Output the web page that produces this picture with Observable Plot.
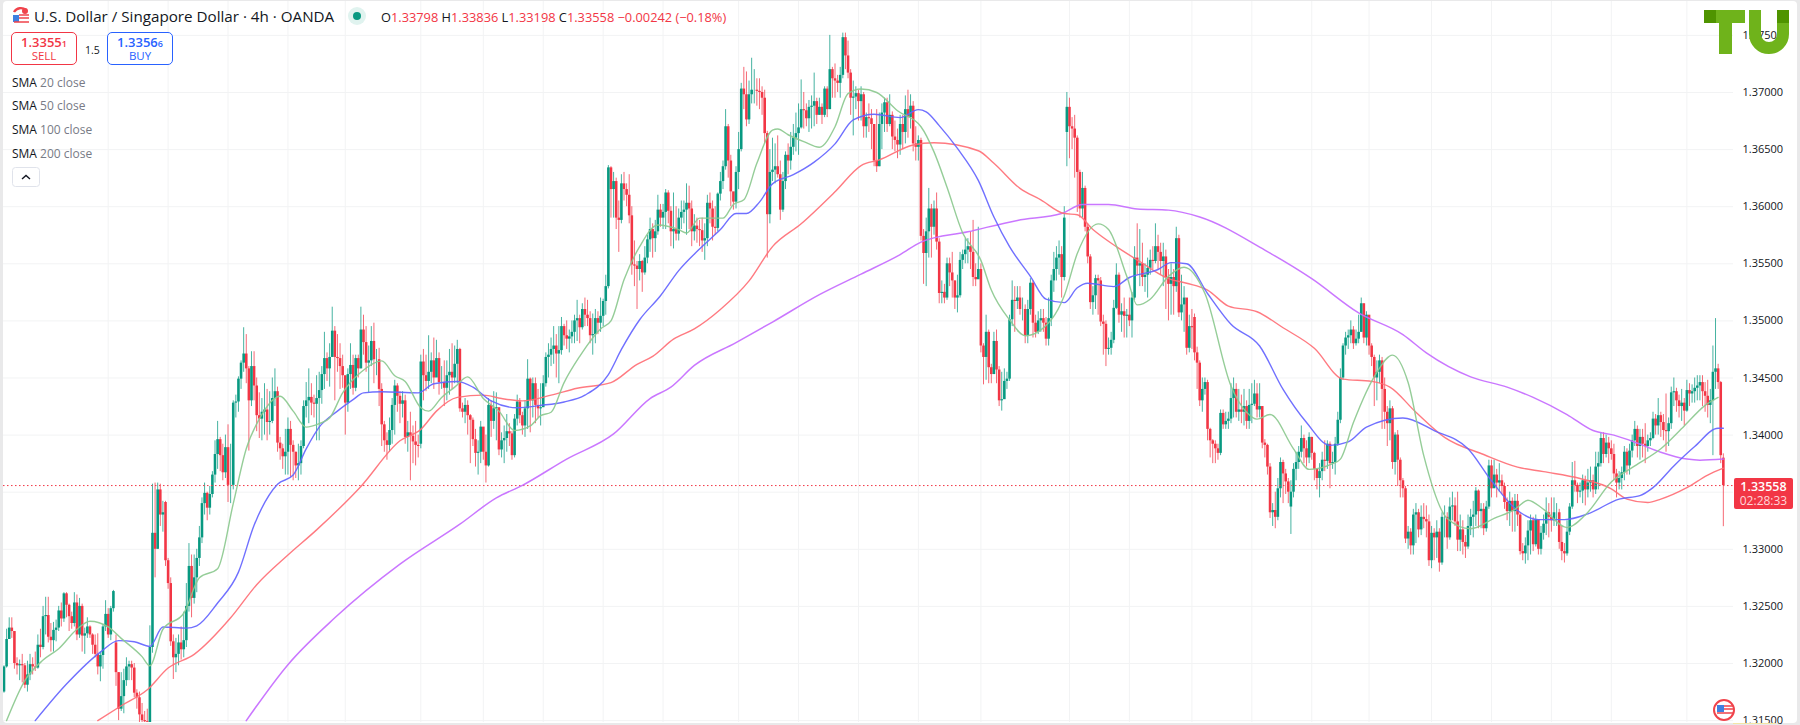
<!DOCTYPE html>
<html><head><meta charset="utf-8">
<script src="https://cdn.jsdelivr.net/npm/d3@7"></script>
<script src="https://cdn.jsdelivr.net/npm/@observablehq/plot@0.6"></script>
<style>
html,body{margin:0;padding:0;background:#e9e9ea;overflow:hidden}
#wrap{position:relative;width:1800px;height:725px;font-family:"Open Sans",sans-serif;color:#131722;overflow:hidden}
#panel{position:absolute;left:3px;top:1px;width:1794px;height:722px;background:#fff;border-radius:4px}
#chart{position:absolute;left:0;top:0}
.t{position:absolute;white-space:nowrap}
.box{position:absolute;top:32px;width:64px;height:31px;border:1px solid;border-radius:5px;text-align:center;background:#fff;line-height:1}
.box b{display:block;font-weight:600;font-size:13px;margin-top:3px}
.box b small{font-size:9px;font-weight:600}
.box span{display:block;font-size:11.5px;margin-top:1px}
.leg{left:12px;font-size:12px;color:#787b86}
.leg i{font-style:normal;color:#131722}
.r{color:#F23645}
svg.ov{position:absolute;left:0;top:0;pointer-events:none}
</style></head><body>
<div id="wrap"><div id="panel"></div><div id="chart"></div></div>
<script>
// Axis and grid
const yGrid=[1.315,1.32,1.325,1.33,1.335,1.34,1.345,1.35,1.355,1.36,1.365,1.37,1.375];
const yLabels=[1.315,1.32,1.325,1.33,1.34,1.345,1.35,1.355,1.36,1.365,1.37,1.375];
const gridBars=[40,63,86,109,131,160,184,207,230,253,282,305,328,351,375,409,432,456,479,502,524,548,571,594,617,646];
const lastPrice=1.33558;
// Candle rows in pips above 1.0000: [close, high, low, optional open]; the open is otherwise the previous close
const leg00=[[3197,3198,3174,3175],[3221,3230,3196],[3231,3240,3225],[3228,3240,3222],[3200,3228,3195],[3198,3205,3190],[3199,3203,3185],[3198,3208,3183],[3181,3200,3178],[3190,3202,3175],[3199,3208,3185],[3197,3205,3190],[3196,3210,3193],[3216,3225,3195],[3214,3230,3205],[3241,3250,3212],[3242,3258,3225],[3223,3258,3218],[3220,3235,3210],[3229,3236,3210],[3231,3238,3219],[3246,3250,3228],[3239,3253,3232],[3261,3262,3236],[3251,3262,3240],[3241,3252,3228],[3235,3245,3230],[3253,3262,3232],[3225,3260,3220],[3250,3257,3222],[3224,3252,3210],[3226,3231,3208],[3232,3240,3222],[3225,3233,3222],[3216,3226,3208],[3208,3225,3205],[3197,3226,3190],[3207,3210,3184],[3232,3234,3195],[3243,3255,3228]];
const leg01=[[3225,3248,3222],[3248,3250,3220],[3263,3264,3245],[3192,3225,3180,3218],[3160,3192,3150],[3171,3192,3158],[3185,3195,3156],[3197,3205,3180],[3199,3202,3185],[3196,3202,3185],[3174,3200,3170],[3170,3177,3160],[3155,3175,3145],[3150,3165,3140],[3149,3158,3140],[3148,3160,3140],[3214,3233,3140,3145],[3314,3357,3209],[3300,3358,3275],[3352,3358,3300],[3330,3357,3320],[3332,3342,3315],[3290,3342,3285,3341]];
const leg02=[[3270,3292,3265],[3219,3275,3215],[3205,3225,3186],[3208,3222,3192],[3218,3225,3198],[3212,3232,3203],[3220,3245,3205],[3250,3270,3214],[3285,3305,3245],[3257,3295,3240],[3275,3295,3252],[3292,3300,3262],[3310,3320,3285],[3340,3345,3305],[3349,3358,3330],[3336,3350,3325],[3348,3355,3330],[3365,3368,3345],[3383,3395,3358],[3396,3412,3370],[3382,3398,3368],[3367,3392,3360],[3389,3400,3362]];
const leg03=[[3356,3409,3341],[3356,3392,3340],[3428,3430,3352],[3429,3435,3415],[3449,3451,3420],[3463,3465,3440],[3471,3494,3455],[3458,3488,3445],[3430,3460,3386],[3460,3473,3425],[3443,3473,3430],[3417,3450,3403],[3414,3437,3397],[3420,3432,3395],[3422,3445,3400],[3411,3440,3395],[3412,3438,3400],[3432,3450,3410],[3438,3458,3425],[3393,3442,3385],[3388,3398,3378],[3381,3392,3370],[3385,3405,3365]];
const leg04=[[3405,3415,3365],[3391,3412,3363],[3385,3395,3360],[3373,3385,3362],[3375,3392,3360],[3390,3395,3365],[3425,3430,3388],[3430,3446,3415],[3433,3458,3410],[3428,3445,3417],[3427,3435,3415],[3432,3452,3395],[3439,3455,3395],[3453,3460,3427],[3467,3490,3440],[3458,3472,3447],[3468,3480,3442],[3491,3512,3468],[3468,3495,3430],[3467,3488,3455],[3460,3480,3440],[3452,3470,3441]];
const leg05=[[3428,3445,3400],[3453,3458,3420],[3461,3480,3440],[3441,3470,3435],[3467,3470,3438],[3458,3470,3450],[3492,3512,3458],[3481,3505,3470],[3463,3495,3455],[3465,3478,3437],[3482,3495,3460],[3466,3498,3445],[3466,3475,3452],[3440,3476,3425],[3409,3445,3390],[3395,3412,3385],[3391,3402,3378],[3404,3415,3385],[3426,3432,3392],[3443,3448,3400],[3434,3445,3420],[3427,3438,3410],[3430,3438,3415],[3398,3435,3392],[3402,3412,3385],[3399,3420,3360],[3394,3408,3375],[3391,3412,3373],[3390,3400,3380]];
const leg06=[[3464,3470,3388,3392],[3452,3475,3430],[3447,3470,3438],[3455,3487,3440],[3465,3472,3445],[3450,3485,3440],[3467,3483,3455],[3446,3472,3435],[3446,3460,3440],[3441,3465,3425],[3452,3465,3430],[3455,3475,3435],[3450,3480,3440],[3462,3478,3445],[3475,3483,3445],[3423,3476,3420],[3420,3428,3415],[3426,3432,3410],[3417,3430,3400],[3413,3418,3375],[3396,3415,3390],[3384,3405,3372],[3385,3395,3365],[3407,3412,3375]];
const leg07=[[3385,3405,3378],[3373,3400,3358],[3426,3432,3372],[3412,3430,3398],[3423,3438,3405],[3424,3437,3395],[3387,3412,3382],[3395,3402,3380],[3397,3408,3375],[3403,3418,3385],[3401,3410,3390],[3382,3403,3378],[3414,3418,3380],[3429,3435,3408],[3417,3432,3410],[3408,3420,3400],[3423,3430,3398],[3449,3466,3405],[3430,3450,3402],[3445,3450,3415],[3426,3450,3410],[3423,3440,3415],[3424,3445,3408]];
const leg08=[[3445,3452,3425],[3468,3472,3442],[3470,3480,3450],[3475,3485,3460],[3478,3495,3462],[3471,3488,3450],[3474,3495,3445],[3495,3503,3470],[3487,3497,3478],[3484,3500,3475],[3486,3492,3472],[3490,3500,3480],[3500,3505,3480],[3502,3518,3482],[3494,3505,3480],[3510,3515,3492],[3505,3520,3495],[3502,3518,3495],[3487,3508,3480],[3488,3506,3470],[3502,3510,3480],[3498,3508,3488],[3504,3520,3490]];
const leg09=[[3517,3519,3495],[3530,3540,3505],[3634,3636,3528],[3615,3635,3590],[3622,3630,3590],[3590,3625,3580],[3588,3605,3560],[3620,3628,3585],[3615,3630,3605],[3610,3620,3600],[3592,3628,3585],[3549,3600,3540],[3548,3570,3530],[3545,3552,3510],[3552,3558,3535],[3542,3553,3525],[3555,3565,3540],[3571,3575,3550],[3580,3590,3560],[3572,3585,3555],[3578,3588,3560],[3597,3610,3575],[3590,3602,3582]];
const leg10=[[3595,3602,3580],[3612,3615,3580],[3596,3614,3585],[3578,3600,3565],[3580,3612,3563],[3576,3600,3570],[3590,3598,3570],[3595,3605,3580],[3597,3605,3585],[3603,3620,3575],[3598,3618,3580],[3578,3605,3565],[3583,3593,3570],[3580,3590,3568],[3579,3588,3565],[3570,3590,3560],[3572,3585,3553],[3603,3610,3565],[3598,3612,3585],[3582,3605,3570],[3581,3600,3575],[3611,3612,3578],[3622,3630,3605],[3635,3640,3615],[3670,3685,3632],[3640,3672,3625],[3613,3645,3600],[3604,3612,3597],[3630,3635,3598]];
const leg11=[[3650,3665,3615],[3703,3708,3648],[3698,3722,3685],[3676,3718,3670],[3698,3710,3672],[3702,3730,3690],[3702,3720,3690],[3701,3712,3688],[3700,3712,3685],[3695,3705,3680],[3664,3702,3655],[3593,3666,3555],[3630,3650,3585],[3632,3660,3622],[3635,3655,3620],[3628,3662,3625],[3597,3640,3588],[3622,3630,3595],[3645,3648,3615],[3640,3655,3628],[3652,3665,3632],[3660,3672,3645],[3664,3682,3648]];
const leg12=[[3669,3690,3645],[3685,3711,3668],[3684,3700,3668],[3677,3690,3670],[3687,3693,3665],[3688,3697,3668],[3692,3717,3670],[3680,3695,3672],[3687,3695,3680],[3680,3690,3672],[3703,3705,3678],[3685,3705,3678],[3720,3750,3685],[3712,3722,3695],[3710,3725,3695],[3708,3715,3700],[3715,3722,3695],[3748,3752,3712],[3732,3752,3720],[3717,3745,3712],[3695,3720,3680],[3696,3710,3662],[3699,3705,3685]];
const leg13=[[3692,3702,3675],[3698,3705,3675],[3670,3700,3660],[3678,3682,3660],[3677,3690,3665],[3672,3685,3650],[3640,3668,3635],[3635,3685,3630],[3672,3682,3635],[3682,3690,3650],[3691,3695,3665],[3672,3695,3665],[3680,3698,3670],[3661,3683,3650],[3658,3675,3648],[3654,3668,3642],[3672,3680,3645],[3665,3680,3650],[3685,3697,3655],[3678,3702,3660],[3688,3698,3668],[3655,3692,3648],[3652,3670,3640]];
const leg14=[[3658,3662,3640],[3574,3660,3570],[3559,3580,3532],[3578,3590,3530],[3598,3616,3555],[3582,3602,3555],[3598,3605,3575],[3569,3612,3562],[3524,3572,3515],[3525,3535,3515],[3520,3532,3515],[3550,3555,3518],[3542,3555,3530],[3535,3560,3520],[3520,3535,3510],[3522,3540,3507],[3553,3560,3520],[3558,3562,3545],[3562,3572,3550],[3565,3572,3550],[3560,3578,3545],[3538,3588,3530],[3536,3550,3530],[3545,3582,3540]];
const leg15=[[3478,3550,3472],[3468,3480,3444],[3490,3505,3448],[3459,3492,3445],[3453,3462,3445],[3482,3490,3462],[3457,3492,3445],[3430,3460,3425],[3431,3455,3421],[3447,3458,3438],[3449,3455,3440],[3501,3505,3447],[3518,3535,3495],[3517,3530,3490],[3520,3530,3510],[3510,3530,3505],[3510,3520,3500],[3487,3514,3480],[3510,3518,3480],[3533,3537,3505],[3498,3535,3485],[3490,3505,3485],[3500,3508,3488],[3502,3510,3490],[3498,3510,3490],[3484,3503,3478],[3502,3520,3478],[3535,3540,3495],[3545,3560,3525],[3555,3565,3535],[3558,3570,3540],[3538,3565,3520],[3590,3600,3535],[3687,3700,3635,3665]];
const leg16=[[3670,3695,3642],[3668,3678,3650],[3660,3680,3625],[3630,3662,3595],[3598,3632,3590],[3616,3630,3590],[3582,3618,3578],[3556,3585,3550],[3516,3558,3510],[3522,3530,3505],[3537,3540,3510],[3535,3540,3505],[3499,3538,3495],[3497,3505,3470],[3475,3500,3460],[3476,3485,3470],[3483,3490,3470],[3511,3518,3480],[3540,3550,3510],[3505,3542,3498],[3508,3515,3490],[3504,3520,3485],[3505,3510,3485]];
const leg17=[[3500,3520,3495],[3520,3525,3485],[3555,3565,3518],[3548,3585,3540],[3550,3580,3530],[3538,3568,3530],[3540,3550,3525],[3546,3555,3520],[3553,3562,3540],[3552,3565,3545],[3565,3585,3550],[3560,3575,3545],[3552,3568,3540],[3556,3568,3530],[3538,3562,3510],[3532,3545,3500],[3538,3550,3505],[3530,3545,3505],[3572,3582,3525],[3507,3575,3503],[3514,3540,3500],[3520,3530,3490],[3476,3505,3470],[3495,3505,3472]];
const leg18=[[3494,3510,3475],[3472,3506,3465,3503],[3463,3477,3440],[3430,3465,3425],[3440,3450,3420],[3446,3450,3435],[3405,3448,3395],[3395,3406,3380],[3392,3396,3375],[3388,3395,3375],[3384,3392,3378],[3419,3422,3382],[3409,3422,3405],[3412,3420,3405],[3414,3420,3405],[3432,3445,3410],[3440,3450,3415],[3420,3445,3415],[3422,3440,3412],[3420,3435,3410],[3425,3440,3408],[3412,3430,3405],[3426,3440,3405]];
const leg19=[[3427,3445,3410],[3436,3448,3425],[3422,3445,3415],[3425,3445,3415],[3393,3425,3388],[3391,3396,3380],[3372,3392,3365],[3332,3375,3327],[3334,3340,3320],[3328,3350,3318],[3353,3362,3325],[3376,3380,3345],[3366,3378,3340],[3359,3370,3348],[3350,3362,3340],[3350,3360,3313,3337],[3370,3375,3345],[3376,3385,3360],[3385,3390,3370],[3397,3408,3380],[3388,3400,3375],[3380,3395,3372],[3398,3402,3375]];
const leg20=[[3384,3398,3378],[3370,3385,3360],[3362,3370,3352],[3368,3375,3345],[3378,3385,3360],[3377,3395,3368],[3392,3395,3370],[3375,3394,3353],[3376,3385,3370],[3392,3398,3365],[3413,3420,3390],[3450,3458,3410],[3478,3480,3448],[3485,3490,3470],[3487,3492,3475],[3492,3500,3480],[3480,3495,3475],[3484,3492,3478],[3490,3505,3480],[3515,3520,3490],[3485,3515,3480],[3505,3508,3478]];
const leg21=[[3478,3503,3470],[3468,3480,3460],[3450,3470,3425],[3455,3465,3430],[3465,3470,3445],[3440,3468,3405],[3420,3450,3405],[3410,3425,3390],[3423,3430,3395],[3376,3425,3370],[3400,3402,3365],[3378,3404,3355],[3360,3380,3345],[3353,3362,3345],[3309,3355,3305],[3315,3320,3300],[3303,3318,3295],[3330,3335,3295],[3332,3340,3305],[3317,3335,3310],[3328,3338,3312],[3326,3340,3318],[3324,3338,3310],[3290,3330,3285]];
const leg22=[[3314,3320,3283],[3310,3318,3290],[3315,3325,3292],[3288,3318,3280],[3328,3332,3286],[3328,3338,3310],[3310,3332,3300],[3337,3345,3308],[3338,3350,3325],[3324,3345,3320],[3308,3350,3298],[3317,3330,3298],[3306,3325,3295],[3302,3312,3292],[3320,3330,3300],[3328,3335,3312],[3330,3342,3310],[3351,3354,3320],[3333,3352,3318],[3335,3340,3318],[3318,3340,3312],[3337,3342,3315],[3373,3378,3335]];
const leg23=[[3353,3378,3345],[3365,3378,3355],[3358,3370,3345],[3360,3375,3350],[3355,3365,3348],[3341,3358,3335],[3333,3345,3325],[3342,3350,3320],[3333,3345,3315],[3342,3348,3315],[3330,3348,3320],[3298,3332,3295],[3296,3305,3290],[3303,3310,3287],[3316,3325,3290],[3325,3330,3295],[3304,3328,3298],[3326,3330,3302],[3300,3320,3295],[3314,3320,3295],[3322,3330,3308],[3332,3345,3312],[3328,3340,3310]];
const leg24=[[3325,3345,3315],[3332,3345,3320],[3332,3340,3320],[3306,3335,3300],[3298,3320,3290],[3296,3305,3288],[3315,3325,3294],[3337,3340,3312],[3360,3376,3335],[3356,3377,3350],[3350,3358,3340],[3351,3358,3345],[3360,3365,3340],[3352,3364,3338],[3358,3370,3345],[3360,3372,3350],[3352,3365,3345],[3372,3385,3348],[3375,3385,3352],[3397,3402,3372],[3383,3402,3375],[3393,3400,3380],[3388,3398,3375]];
const leg25=[[3383,3395,3378],[3366,3392,3360],[3358,3370,3345],[3362,3368,3352],[3367,3372,3352],[3385,3390,3360],[3373,3388,3365],[3386,3392,3365],[3395,3400,3380],[3405,3412,3390],[3390,3408,3380],[3398,3405,3378],[3392,3405,3380],[3390,3410,3375],[3395,3400,3385],[3397,3402,3390],[3414,3420,3396],[3408,3418,3400],[3417,3432,3400],[3411,3420,3398],[3404,3418,3395],[3403,3436,3385],[3410,3415,3390],[3437,3442,3405],[3438,3450,3425],[3430,3441,3420],[3425,3435,3415],[3428,3440,3412],[3421,3432,3408]];
const leg26=[[3439,3448,3420],[3436,3445,3425],[3438,3444,3428],[3441,3450,3428],[3443,3452,3430],[3446,3452,3430],[3438,3452,3425],[3434,3446,3420],[3426,3448,3415],[3430,3440,3410],[3455,3478,3382],[3458,3502,3440],[3446,3462,3440],[3382,3447,3375],[3355.8,3383.6,3319.8,3379.8]];
// Moving averages: [bar, pips above 1.0000]
const sma20=[[1,3150],[8,3185],[15,3203],[21,3213],[28,3230],[33,3237],[40,3232],[45,3222],[53,3206],[56,3198],[61,3230],[69,3244],[75,3275],[82,3283],[88,3340],[93,3388],[98,3414],[106,3434],[111,3421],[116,3407],[121,3410],[125,3415],[130,3437],[137,3455],[145,3465],[150,3452],[154,3447],[160,3424],[163,3421],[168,3433],[173,3442],[178,3451],[184,3432],[190,3421],[196,3404],[202,3408],[206,3417],[210,3420],[215,3446],[221,3469],[229,3493],[233,3500],[238,3536],[244,3565],[251,3584],[259,3580],[262,3577],[267,3590],[276,3590],[280,3602],[284,3606],[289,3638],[295,3667],[297,3668],[301,3663],[307,3657],[313,3652],[319,3670],[324,3699],[329,3703],[335,3700],[343,3684],[352,3670],[357,3648],[362,3617],[368,3577],[375,3553],[379,3527],[386,3501],[392,3487],[402,3501],[407,3522],[412,3559],[420,3585],[424,3580],[431,3539],[435,3514],[440,3519],[447,3539],[453,3547],[461,3524],[471,3443],[477,3420],[481,3414],[486,3418],[495,3388],[501,3370],[510,3375],[513,3379],[518,3411],[527,3455],[533,3470],[539,3446],[545,3382],[554,3327],[563,3318],[572,3327],[580,3335],[585,3343],[591,3335],[600,3319],[607,3330],[617,3359],[626,3373],[636,3388],[645,3408],[653,3426],[658,3433]];
const sma50=[[12,3150],[24,3182],[37,3210],[44,3220],[50,3219],[56,3215],[61,3232],[70,3231],[74,3233],[82,3253],[90,3280],[96,3321],[105,3357],[111,3365],[116,3388],[121,3407],[128,3421],[134,3431],[138,3437],[145,3438],[159,3437],[165,3445],[174,3447],[180,3442],[187,3430],[197,3424],[206,3426],[215,3429],[223,3435],[232,3453],[237,3475],[244,3501],[252,3522],[259,3544],[267,3563],[275,3580],[281,3594],[285,3594],[290,3604],[295,3620],[303,3628],[311,3639],[319,3655],[326,3676],[334,3681],[344,3678],[351,3685],[354,3683],[359,3671],[366,3651],[374,3623],[380,3591],[386,3565],[394,3539],[400,3519],[407,3516],[412,3529],[416,3533],[426,3530],[432,3538],[443,3545],[448,3551],[454,3550],[462,3524],[471,3497],[482,3478],[491,3440],[500,3411],[509,3391],[516,3394],[523,3407],[537,3415],[549,3404],[562,3388],[571,3360],[581,3334],[589,3326],[599,3326],[608,3331],[620,3344],[628,3347],[633,3354],[641,3373],[649,3390],[658,3406],[660,3406]];
const sma100=[[36,3150],[45,3163],[55,3177],[63,3196],[73,3208],[87,3240],[97,3269],[109,3295],[120,3317],[137,3355],[152,3395],[160,3405],[166,3421],[174,3433],[184,3435],[191,3432],[199,3430],[210,3435],[220,3441],[233,3446],[243,3462],[249,3469],[257,3484],[265,3493],[275,3510],[286,3535],[295,3565],[306,3585],[319,3613],[329,3636],[336,3641],[349,3654],[357,3656],[374,3649],[380,3638],[390,3616],[398,3606],[407,3594],[412,3593],[418,3580],[427,3565],[436,3552],[447,3537],[454,3533],[462,3527],[470,3513],[481,3508],[491,3494],[503,3476],[514,3449],[525,3447],[532,3442],[542,3420],[553,3398],[568,3383],[581,3372],[591,3368],[605,3362],[617,3353],[623,3344],[631,3341],[636,3344],[646,3354],[654,3365],[660,3371]];
const sma200=[[93,3150],[109,3199],[127,3240],[152,3287],[175,3322],[189,3345],[199,3356],[216,3379],[234,3401],[248,3432],[256,3442],[265,3461],[281,3481],[295,3499],[313,3523],[329,3541],[344,3558],[352,3569],[370,3578],[389,3588],[406,3594],[414,3602],[424,3602],[435,3598],[447,3597],[459,3591],[484,3562],[502,3537],[520,3507],[537,3488],[546,3472],[563,3451],[577,3442],[587,3433],[600,3418],[610,3404],[618,3400],[627,3393],[636,3385],[646,3379],[651,3378],[660,3379]];

const GREEN="#089981",RED="#F23645",GRID="#f2f3f4";
const legStarts=[0,...gridBars];
const legs=[leg00,leg01,leg02,leg03,leg04,leg05,leg06,leg07,leg08,leg09,leg10,leg11,leg12,leg13,leg14,leg15,leg16,leg17,leg18,leg19,leg20,leg21,leg22,leg23,leg24,leg25,leg26];
const px=v=>1+v/10000;
const bars=[];let prev=null;
legs.forEach((leg,k)=>leg.forEach((r,j)=>{
  const o=r[3]!==undefined?r[3]:(prev===null?r[0]:prev);
  bars.push({i:legStarts[k]+j,o:px(o),c:px(r[0]),h:px(r[1]),l:px(r[2])});
  prev=r[0];
}));
const ups=bars.filter(d=>d.c>=d.o),downs=bars.filter(d=>d.c<d.o);
const lineOf=a=>a.map(([i,v])=>({i,v:px(v)}));
const candle=(data,color)=>[
  Plot.ruleX(data,{x:"i",y1:"l",y2:"h",stroke:color,strokeWidth:1,strokeOpacity:0.75,clip:true}),
  Plot.ruleX(data,{x:"i",y1:"o",y2:"c",stroke:color,strokeWidth:2.6,clip:true})
];
const smaLine=(a,color,width)=>Plot.line(lineOf(a),{x:"i",y:"v",curve:"monotone-x",stroke:color,strokeWidth:width,strokeOpacity:.92,clip:true});
const chart=Plot.plot({
  width:1800,height:725,marginLeft:3,marginRight:67,marginTop:1,marginBottom:3,
  style:{background:"transparent",fontFamily:"'Open Sans',sans-serif",fontSize:"11px",color:"#131722"},
  x:{domain:[-0.19,663.9],axis:null},
  y:{domain:[1.314834,1.377968]},
  marks:[
    Plot.ruleY(yGrid,{stroke:GRID,strokeWidth:1}),
    Plot.ruleX(gridBars,{stroke:GRID,strokeWidth:1}),
    Plot.axisY(yLabels,{anchor:"right",tickSize:0,tickPadding:9,tickFormat:d3.format(".5f"),label:null,fill:"#131722"}),
    ...candle(downs,RED),...candle(ups,GREEN),
    Plot.ruleY([lastPrice],{stroke:RED,strokeWidth:1,strokeDasharray:"1.5 2.5"}),
    smaLine(sma200,"#c56bff",1.5),
    smaLine(sma100,"#ff6f76",1.4),
    smaLine(sma50,"#6464ff",1.4),
    smaLine(sma20,"#8cc98f",1.4)
  ]
});
document.getElementById("chart").append(chart);

const w=document.getElementById("wrap");
w.insertAdjacentHTML("beforeend",`
<svg class="ov" width="1800" height="725">
  <g><path d="M14 12a8 8 0 0 1 12-2" fill="none" stroke="#f0434b" stroke-width="2.4"/><circle cx="25" cy="11" r="3" fill="#f0434b"/>
     <path d="M13 15h6v7h-6z" fill="#3f7fe0"/><path d="M19 15h10M19 18h10M14 22h15" stroke="#f0434b" stroke-width="1.6"/></g>
  <circle cx="357" cy="16" r="9" fill="#e0f3ef"/><circle cx="357" cy="16" r="4" fill="#089981"/>
  <rect x="12.5" y="167.5" width="27" height="19" rx="3" fill="#fff" stroke="#e0e3eb"/>
  <path d="M22 179l4-3.5 4 3.5" fill="none" stroke="#131722" stroke-width="1.4"/>
  <g><circle cx="1724" cy="710" r="10" fill="#fff" stroke="#f0434b" stroke-width="2"/>
     <path d="M1717 705h7v7h-7z" fill="#3f7fe0"/><path d="M1724 706h9M1724 709h9M1717 713h16" stroke="#f0434b" stroke-width="1.5"/></g>
  <rect x="1734" y="478" width="59" height="31" rx="2" fill="#F23645"/>
  <rect x="1733" y="723" width="43" height="1" fill="#f3e6a6"/>
  <rect x="1704" y="10" width="12" height="13" fill="#4f9400"/>
  <path d="M1716 10h29v13h-13v31h-13v-31h-3z" fill="#6fb31b"/>
  <path d="M1755 10V34A14 14 0 0 0 1783 34V23" fill="none" stroke="#6fb31b" stroke-width="12"/>
  <rect x="1777" y="10" width="12" height="13" fill="#4f9400"/>
</svg>
<div class="t" style="left:34px;top:6px;font-size:15.2px;font-weight:500">U.S. Dollar / Singapore Dollar · 4h · OANDA</div>
<div class="t" style="left:381px;top:8px;font-size:12.8px">O<span class="r">1.33798</span> H<span class="r">1.33836</span> L<span class="r">1.33198</span> C<span class="r">1.33558</span> <span class="r">−0.00242 (−0.18%)</span></div>
<div class="box" style="left:11px;border-color:#F23645;color:#F23645"><b>1.3355<small>1</small></b><span>SELL</span></div>
<div class="t" style="left:85px;top:43px;font-size:10.5px">1.5</div>
<div class="box" style="left:107px;border-color:#2962FF;color:#2962FF"><b>1.3356<small>6</small></b><span>BUY</span></div>
<div class="t leg" style="top:74px"><i>SMA</i> 20 close</div>
<div class="t leg" style="top:97px"><i>SMA</i> 50 close</div>
<div class="t leg" style="top:121px"><i>SMA</i> 100 close</div>
<div class="t leg" style="top:145px"><i>SMA</i> 200 close</div>
<div class="t" style="left:1734px;width:59px;text-align:center;top:480px;line-height:14px;font-size:12.5px;font-weight:600;color:#fff">1.33558</div>
<div class="t" style="left:1734px;width:59px;text-align:center;top:494px;line-height:14px;font-size:12px;color:#ffd7da">02:28:33</div>
`);
</script>
</body></html>
